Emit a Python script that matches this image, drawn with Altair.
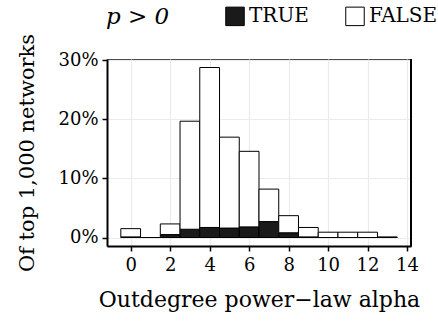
import altair as alt
import pandas as pd

# Histogram bins (centres) of outdegree power-law alpha, width 1
bin_centers = [0, 1, 2, 3, 4, 5, 6, 7, 8, 9, 10, 11, 12, 13]
bin_width = 1.0
true_pct = [0.1, 0.0, 0.5, 1.4, 1.7, 1.6, 1.8, 2.7, 0.8, 0.1, 0.0, 0.0, 0.0, 0.0]
false_pct = [1.4, 0.0, 1.8, 18.3, 27.1, 15.4, 12.8, 5.5, 2.9, 1.6, 0.9, 0.9, 0.9, 0.1]
groups = ["TRUE", "FALSE"]
group_colors = ["#1a1a1a", "#ffffff"]
x_ticks = [0, 2, 4, 6, 8, 10, 12, 14]
y_ticks = [0, 10, 20, 30]

rows = []
for c, t, f in zip(bin_centers, true_pct, false_pct):
    for g, v, o in (("TRUE", t, 0), ("FALSE", f, 1)):
        rows.append({"lo": c - bin_width / 2, "hi": c + bin_width / 2,
                     "group": g, "pct": v, "ord": o})
df = pd.DataFrame(rows)

W, H = 304, 187
FONT = "DejaVu Serif"

axis_common = dict(labelFont=FONT, titleFont=FONT, labelFontSize=18,
                   tickSize=5, tickWidth=1.5, tickColor="black",
                   domainColor="black", domainWidth=2,
                   labelColor="black", titleColor="black",
                   titleFontWeight="normal",
                   gridColor="#ebebeb", gridWidth=1.2)

bars = (
    alt.Chart(df)
    .transform_stack(stack="pct", groupby=["lo"], as_=["y0", "y1"],
                     sort=[alt.SortField("ord", order="ascending")])
    .mark_bar(stroke="black", strokeWidth=1, opacity=1)
    .encode(
        x=alt.X("lo:Q",
                scale=alt.Scale(domain=[-1.2, 14.2], nice=False, zero=False),
                axis=alt.Axis(values=x_ticks, title="Outdegree power\u2212law alpha",
                              format="d", labelPadding=5, titlePadding=15,
                              titleFontSize=22, **axis_common)),
        x2="hi:Q",
        y=alt.Y("y0:Q",
                scale=alt.Scale(domain=[-1.44, 30.24], nice=False, zero=False),
                axis=alt.Axis(values=y_ticks, title="Of top 1,000 networks",
                              labelExpr="datum.value + '%'",
                              labelPadding=4, titlePadding=20,
                              titleFontSize=21, **axis_common)),
        y2="y1:Q",
        fill=alt.Fill("group:N",
                      scale=alt.Scale(domain=groups, range=group_colors),
                      sort=groups,
                      legend=alt.Legend(orient="none", legendX=-1, legendY=-53,
                                        direction="horizontal", title="p > 0",
                                        titleOrient="left", titleFontStyle="italic",
                                        titleFont=FONT, labelFont=FONT,
                                        titleFontWeight="normal", titleFontSize=23,
                                        titlePadding=55, titleColor="black",
                                        labelFontSize=20, labelColor="black",
                                        labelOffset=4, symbolType="square",
                                        symbolSize=342, symbolStrokeColor="black",
                                        symbolStrokeWidth=1, symbolOpacity=1,
                                        columnPadding=34)),
    )
)

right_border = alt.Chart(df).mark_rule(color="black", strokeWidth=2).encode(
    x=alt.value(W), y=alt.value(0), y2=alt.value(H)
)

chart = (
    alt.layer(bars, right_border)
    .properties(width=W, height=H,
                autosize=alt.AutoSizeParams(type="none"),
                padding={"left": 107, "top": 59, "right": 27, "bottom": 76},
                background="white")
    .configure(font=FONT)
    .configure_view(stroke="#4d4d4d", strokeWidth=1)
)

chart.save("out.html", embed_options={"renderer": "svg", "actions": False})
